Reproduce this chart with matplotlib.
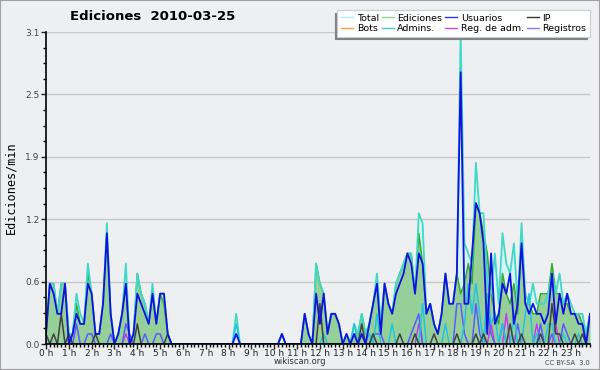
import matplotlib
matplotlib.use("Agg")
import matplotlib.pyplot as plt
from matplotlib.lines import Line2D
from matplotlib.patches import Rectangle
import numpy as np

# ediciones por minuto, tramos de 10 min (6 por hora, 144 en total)
total = [
    0.1, 0.6, 0.6, 0.3, 0.6, 0.6,  0.1, 0.1, 0.5, 0.3, 0.2, 0.8,
    0.5, 0.1, 0.1, 0.4, 1.2, 0.3,  0.0, 0.1, 0.3, 0.8, 0.0, 0.1,
    0.7, 0.5, 0.4, 0.2, 0.6, 0.2,  0.5, 0.5, 0.1, 0.0, 0.0, 0.0,
    0, 0, 0, 0, 0, 0,  0, 0, 0, 0, 0, 0,
    0, 0, 0.3, 0, 0, 0,  0, 0, 0, 0, 0, 0,
    0, 0, 0.1, 0, 0, 0,  0, 0, 0.3, 0.1, 0.0, 0.8,
    0.6, 0.5, 0.1, 0.3, 0.3, 0.2,  0.0, 0.1, 0.0, 0.2, 0.1, 0.3,
    0.1, 0.2, 0.4, 0.7, 0.2, 0.6,  0.4, 0.3, 0.6, 0.7, 0.8, 0.9,
    0.9, 0.5, 1.3, 1.2, 0.3, 0.4,  0.2, 0.1, 0.3, 0.7, 0.4, 0.4,
    0.7, 3.1, 1.0, 0.9, 0.8, 1.8,  1.3, 1.3, 0.6, 0.5, 0.9, 0.4,
    1.1, 0.8, 0.7, 1.0, 0.4, 1.2,  0.5, 0.4, 0.6, 0.4, 0.4, 0.4,
    0.5, 0.7, 0.5, 0.7, 0.4, 0.5,  0.4, 0.3, 0.3, 0.3, 0.1, 0.3,
]
ediciones = [
    0.1, 0.6, 0.6, 0.3, 0.6, 0.6,  0.1, 0.1, 0.4, 0.2, 0.2, 0.7,
    0.5, 0.1, 0.1, 0.4, 1.1, 0.3,  0.0, 0.1, 0.3, 0.6, 0.0, 0.1,
    0.7, 0.5, 0.4, 0.2, 0.5, 0.2,  0.5, 0.4, 0.1, 0.0, 0.0, 0.0,
    0, 0, 0, 0, 0, 0,  0, 0, 0, 0, 0, 0,
    0, 0, 0, 0, 0, 0,  0, 0, 0, 0, 0, 0,
    0, 0, 0, 0, 0, 0,  0, 0, 0.3, 0.1, 0.0, 0.8,
    0.6, 0.5, 0.1, 0.3, 0.3, 0.2,  0.0, 0.1, 0.0, 0.1, 0.1, 0.3,
    0.1, 0.2, 0.4, 0.6, 0.2, 0.6,  0.4, 0.3, 0.6, 0.7, 0.8, 0.9,
    0.9, 0.5, 1.1, 0.8, 0.3, 0.4,  0.2, 0.1, 0.3, 0.7, 0.4, 0.4,
    0.7, 0.5, 0.6, 0.8, 0.6, 1.4,  1.3, 1.1, 0.9, 0.5, 0.3, 0.2,
    0.7, 0.5, 0.4, 0.6, 0.3, 1.1,  0.4, 0.4, 0.3, 0.3, 0.5, 0.5,
    0.5, 0.8, 0.5, 0.5, 0.4, 0.4,  0.3, 0.3, 0.3, 0.2, 0.1, 0.3,
]
usuarios = [
    0.1, 0.6, 0.5, 0.3, 0.3, 0.6,  0.0, 0.1, 0.3, 0.2, 0.2, 0.6,
    0.5, 0.1, 0.1, 0.4, 1.1, 0.3,  0.0, 0.1, 0.3, 0.6, 0.0, 0.1,
    0.5, 0.4, 0.3, 0.2, 0.5, 0.2,  0.5, 0.5, 0.1, 0.0, 0.0, 0.0,
    0, 0, 0, 0, 0, 0,  0, 0, 0, 0, 0, 0,
    0, 0, 0.1, 0, 0, 0,  0, 0, 0, 0, 0, 0,
    0, 0, 0.1, 0, 0, 0,  0, 0, 0.3, 0.1, 0.0, 0.5,
    0.2, 0.5, 0.1, 0.3, 0.3, 0.2,  0.0, 0.1, 0.0, 0.1, 0.0, 0.1,
    0.0, 0.2, 0.4, 0.6, 0.1, 0.6,  0.4, 0.3, 0.5, 0.6, 0.7, 0.9,
    0.8, 0.5, 0.9, 0.8, 0.3, 0.4,  0.2, 0.1, 0.3, 0.7, 0.4, 0.4,
    0.7, 2.7, 0.4, 0.4, 0.9, 1.4,  1.3, 1.0, 0.1, 0.9, 0.2, 0.3,
    0.6, 0.5, 0.7, 0.2, 0.4, 1.0,  0.4, 0.3, 0.4, 0.3, 0.3, 0.2,
    0.3, 0.7, 0.2, 0.5, 0.3, 0.5,  0.3, 0.3, 0.2, 0.2, 0.0, 0.3,
]
# series dispersas: {indice de tramo: valor}
ip_pts = {0: 0.1, 2: 0.1, 4: 0.3, 6: 0.1, 13: 0.1, 24: 0.2, 32: 0.1, 72: 0.4,
          83: 0.2, 86: 0.1, 93: 0.1, 97: 0.1, 102: 0.1, 108: 0.1, 113: 0.1,
          115: 0.1, 122: 0.2, 125: 0.1, 130: 0.1, 133: 0.4, 134: 0.1,
          135: 0.1, 139: 0.1, 141: 0.1}
admins_pts = {50: 0.2, 73: 0.1, 81: 0.2, 85: 0.1, 87: 0.3, 91: 0.2, 99: 0.4,
              105: 0.2, 110: 0.2, 111: 0.6, 112: 0.3, 113: 0.6, 114: 0.3,
              116: 0.5, 117: 0.2, 118: 0.3, 120: 0.2, 123: 0.3, 126: 0.3,
              127: 0.5, 129: 0.1, 132: 0.2, 133: 0.2, 136: 0.1, 140: 0.1}
registros_pts = {8: 0.2, 11: 0.1, 12: 0.1, 17: 0.1, 21: 0.2, 22: 0.1, 26: 0.1,
                 29: 0.1, 30: 0.1, 62: 0.1, 86: 0.1, 87: 0.1, 88: 0.1, 96: 0.1,
                 97: 0.2, 98: 0.3, 108: 0.4, 109: 0.4, 110: 0.1, 113: 0.4,
                 114: 0.1, 116: 0.4, 117: 0.1, 120: 0.2, 124: 0.2, 130: 0.2,
                 133: 0.1, 136: 0.2, 137: 0.1}
regadm_pts = {21: 0.1, 98: 0.2, 117: 0.2, 121: 0.3, 129: 0.2, 134: 0.2}

hours = [f"{h} h" for h in range(24)]
n = len(total)
x = np.arange(n) / 6.0


def expand(pts):
    v = np.zeros(n)
    for k, val in pts.items():
        v[k] = val
    return v


ip = expand(ip_pts)
admins = expand(admins_pts)
registros = expand(registros_pts)
regadm = expand(regadm_pts)
bots = np.zeros(n)

bg = "#eeeff1"
fig = plt.figure(figsize=(6, 3.7), dpi=100, facecolor=bg)
ax = fig.add_axes([46 / 600, 26 / 370, 544 / 600, 312 / 370])
ax.set_facecolor(bg)

ax.fill_between(x, total, color="#d8f4f0", lw=0, zorder=1)
ax.fill_between(x, ediciones, color="#8fcc90", alpha=0.9, lw=0, zorder=2)
ax.plot(x, ediciones, color="#33aa33", lw=1.1, zorder=3)
ax.plot(x, total, color="#40d8c8", lw=1.3, zorder=3)
ax.plot(x, bots, color="#ffa040", lw=1, zorder=3)
ax.plot(x, regadm, color="#cc33ee", lw=1, zorder=4)
ax.plot(x, registros, color="#5a5aff", lw=1.1, zorder=4)
ax.plot(x, admins, color="#22c4dd", lw=1.1, zorder=4)
ax.plot(x, ip, color="#404040", lw=1.1, zorder=5)
ax.plot(x, usuarios, color="#1010e0", lw=1.3, zorder=6)

ax.set_xlim(0, x[-1])
ax.set_ylim(0, 3.1)
yt = np.linspace(0, 3.1, 6)
ax.set_yticks(yt)
ax.set_yticklabels([f"{v:.1f}" for v in yt])
ax.set_yticks(np.linspace(0, 3.1, 21), minor=True)
ax.set_xticks(np.arange(24))
ax.set_xticklabels(hours)
ax.set_xticks(x, minor=True)
ax.grid(axis="y", color="#c8c8c8", lw=1)
ax.set_axisbelow(True)
for s in ["top", "right"]:
    ax.spines[s].set_visible(False)
for s in ["left", "bottom"]:
    ax.spines[s].set_linewidth(1.2)
    ax.spines[s].set_zorder(10)
ax.tick_params(axis="both", which="major", length=3.5, width=1,
               colors="#222222", pad=1)
ax.tick_params(axis="both", which="minor", length=2.5, width=1)
ax.tick_params(axis="x", labelsize=6.5, pad=0)
ax.tick_params(axis="y", labelsize=6.5, labelcolor="#444444")
ax.set_ylabel("Ediciones/min", fontsize=8.5, family="DejaVu Sans Mono",
              labelpad=6)

fig.text(153 / 600, 1 - 17 / 370, "Ediciones  2010-03-25", fontsize=9.5,
         fontweight="bold", ha="center", va="center")
fig.text(300 / 600, 1 - 362 / 370, "wikiscan.org", fontsize=6,
         color="#333333", ha="center", va="center")
fig.text(590 / 600, 1 - 363 / 370, "CC BY-SA  3.0", fontsize=4.8,
         color="#444444", ha="right", va="center")

labels = ["Total", "Bots", "Ediciones", "Admins.", "Usuarios",
          "Reg. de adm.", "IP", "Registros"]
colors = ["#b0eeee", "#ffa040", "#90d090", "#40c8d8", "#3333dd",
          "#cc44dd", "#333333", "#8080ff"]
handles = [Line2D([], [], color=c, lw=1) for c in colors]
leg = fig.legend(handles, labels, ncol=4, loc="upper right",
                 bbox_to_anchor=(590 / 600, 1 - 10 / 370), fontsize=6.8,
                 frameon=True, fancybox=False, handlelength=1.3,
                 handletextpad=0.35, columnspacing=0.3, labelspacing=0.12,
                 borderpad=0.4, borderaxespad=0,
                 shadow={"ox": -2, "oy": -2, "color": "#808080", "alpha": 1})
leg.get_frame().set_edgecolor("#cccccc")
leg.get_frame().set_linewidth(0.8)

fig.patches.append(Rectangle((0, 0), 1, 1, transform=fig.transFigure,
                             fill=False, edgecolor="#a0a0a0", lw=1.5))

fig.savefig("out.png", dpi=100, facecolor=bg)
